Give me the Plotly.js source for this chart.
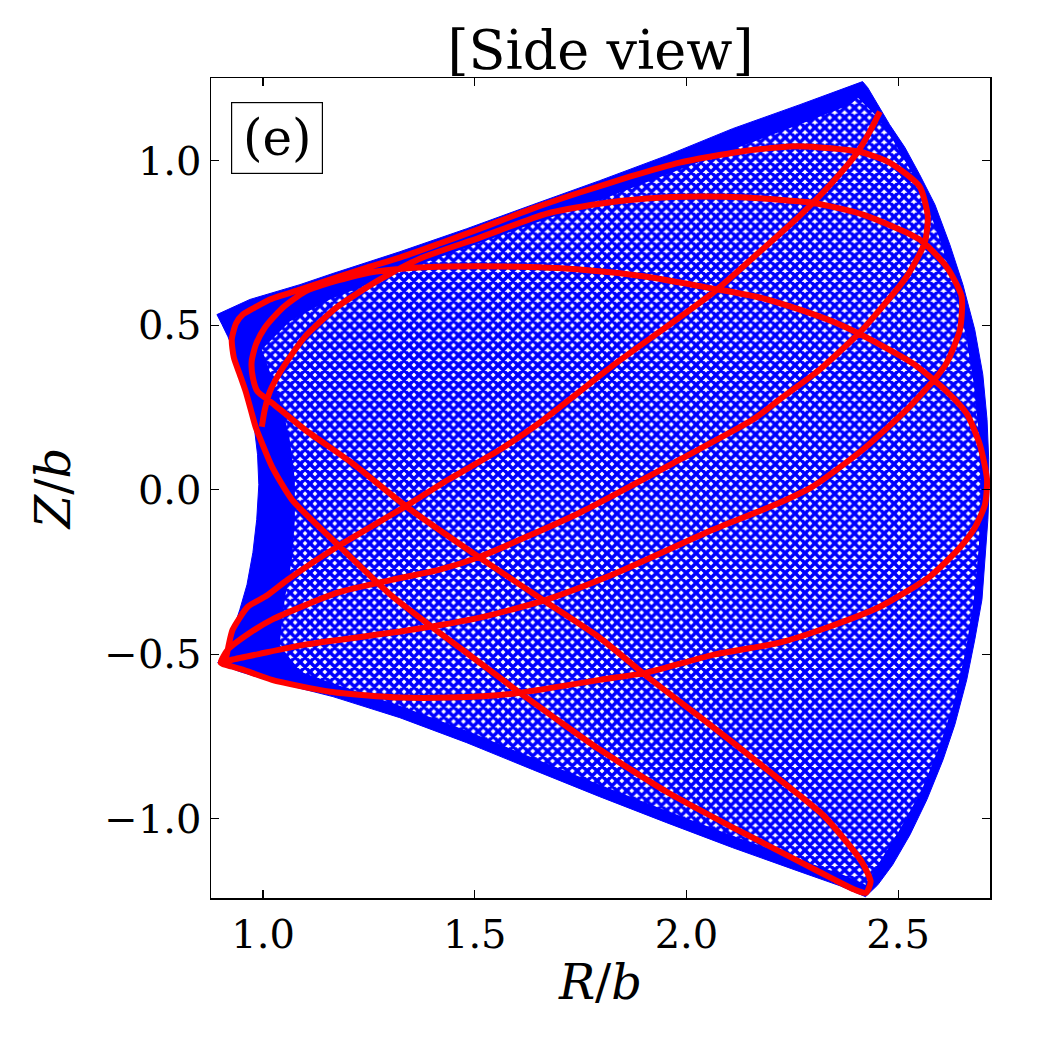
<!DOCTYPE html>
<html>
<head>
<meta charset="utf-8">
<script src="https://cdn.plot.ly/plotly-3.0.1.min.js"></script>
<style>html,body{margin:0;padding:0;background:#fff;}#chart{width:1050px;height:1050px;}</style>
</head>
<body>
<div id="chart"></div>
<script>
// ---- Data (R/b, Z/b) ----
// Outline of the region swept by the full (blue) orbit
const orbitEdgeR = [0.891,0.969,1.087,1.165,1.323,1.481,1.637,1.795,1.953,2.109,2.268,2.416,
  2.428,2.480,2.516,2.551,2.587,2.622,2.653,2.681,2.700,2.710,2.714,2.714,2.712,2.705,2.698,2.681,2.662,2.634,2.606,2.568,2.528,2.487,2.452,2.423,
  2.363,2.268,2.109,1.953,1.795,1.637,1.481,1.323,1.165,1.009,0.945,0.893,
  0.912,0.928,0.945,0.962,0.976,0.985,0.990,0.987,0.980,0.966,0.952,0.936,0.917,0.903,0.891];
const orbitEdgeZ = [0.532,0.578,0.623,0.657,0.723,0.793,0.866,0.939,1.015,1.097,1.170,1.240,
  1.222,1.109,1.040,0.957,0.866,0.745,0.623,0.486,0.350,0.213,0.091,-0.030,-0.091,-0.213,-0.334,-0.456,-0.578,-0.714,-0.821,-0.942,-1.049,-1.140,-1.201,-1.237,
  -1.204,-1.161,-1.088,-1.012,-0.933,-0.851,-0.769,-0.693,-0.629,-0.578,-0.553,-0.526,
  -0.486,-0.432,-0.365,-0.289,-0.191,-0.091,0.015,0.106,0.182,0.264,0.334,0.404,0.465,0.502,0.532];

// Outline of the open-mesh (less dense) part of the blue orbit
const meshOpenR = [0.997,1.063,1.158,1.323,1.488,1.654,1.819,1.984,2.150,2.292,2.386,2.405,2.445,2.487,2.528,2.568,2.603,2.634,2.660,2.679,2.691,2.695,2.691,2.679,2.660,2.634,2.599,2.556,2.504,2.452,2.423,
  2.374,2.268,2.109,1.953,1.795,1.637,1.481,1.323,1.181,1.087,1.039,1.051,1.068,1.075,1.075,1.063,1.044,1.021,0.997];
const meshOpenZ = [0.426,0.511,0.578,0.663,0.739,0.815,0.891,0.973,1.052,1.122,1.170,1.191,1.140,1.064,0.973,0.866,0.745,0.608,0.471,0.319,0.167,0.000,-0.167,-0.334,-0.486,-0.638,-0.775,-0.912,-1.033,-1.140,-1.201,
  -1.173,-1.125,-1.052,-0.976,-0.897,-0.815,-0.733,-0.657,-0.596,-0.553,-0.471,-0.334,-0.213,-0.091,0.030,0.152,0.258,0.340,0.426];

// Highlighted (red) segment of the orbit, in path order
const segR = [
  0.997,1.004,1.016,1.044,1.099,1.176,1.271,1.370,1.512,1.670,1.795,1.906,2.032,2.143,2.220,2.298,2.417,2.551,2.614,2.650,
  2.646,2.615,2.591,2.520,2.417,2.298,2.220,2.062,1.826,1.670,1.512,1.335,1.099,0.992,0.926,0.900,
  0.917,0.969,1.021,1.176,1.304,1.417,1.512,1.748,1.984,2.157,2.220,2.315,2.409,2.457,2.520,2.563,2.570,2.551,2.480,2.409,
  2.315,2.244,2.126,1.984,1.866,1.748,1.630,1.512,1.417,1.323,1.245,1.165,1.087,1.016,0.980,0.952,0.936,0.926,0.931,0.945,
  0.959,0.971,0.983,0.997,1.021,1.068,1.181,1.306,1.417,1.512,1.606,1.701,1.795,1.953,2.110,2.268,2.346,2.398,2.424,2.435,
  2.414,2.374,2.322,2.268,2.220,2.110,2.031,1.913,1.795,1.670,1.519,1.339,1.209,1.099,1.021,0.987,0.976,0.973,0.983,1.004,
  1.044,1.099,1.158,1.252,1.335,1.441,1.571,1.748,1.906,2.063,2.173,2.268,2.362,2.457,2.539,2.610,2.662,2.693,2.710,2.705,
  2.681,2.646,2.575,2.457,2.339,2.220,2.063,1.906,1.795,1.590,1.441,1.323,1.158,1.021,0.952,0.900,
  0.912,0.919,0.928,0.964,1.009,1.058,1.176,1.335,1.437,1.560,1.654,1.826,2.063,2.173,2.268,2.346,2.405,2.433,2.457];
const segZ = [
  0.191,0.243,0.298,0.365,0.465,0.556,0.635,0.702,0.766,0.839,0.869,0.885,0.891,0.888,0.881,0.872,0.836,0.760,0.678,0.587,
  0.486,0.386,0.343,0.243,0.122,0.009,-0.040,-0.122,-0.258,-0.334,-0.389,-0.429,-0.471,-0.499,-0.517,-0.526,
  -0.486,-0.435,-0.395,-0.313,-0.274,-0.243,-0.204,-0.070,0.091,0.213,0.274,0.365,0.477,0.547,0.647,0.751,0.830,0.921,0.994,1.027,
  1.040,1.043,1.027,0.994,0.951,0.903,0.851,0.793,0.748,0.705,0.675,0.641,0.608,0.578,0.553,0.532,0.505,0.456,0.401,0.350,
  0.298,0.243,0.188,0.143,0.070,-0.030,-0.173,-0.325,-0.435,-0.526,-0.617,-0.705,-0.790,-0.918,-1.027,-1.131,-1.183,-1.216,-1.225,-1.191,
  -1.131,-1.064,-0.988,-0.930,-0.881,-0.769,-0.690,-0.574,-0.450,-0.343,-0.213,-0.052,0.082,0.182,0.264,0.298,0.340,0.389,0.441,0.492,
  0.550,0.602,0.629,0.660,0.672,0.678,0.678,0.669,0.647,0.611,0.584,0.547,0.502,0.441,0.380,0.304,0.231,0.137,0.030,-0.046,
  -0.116,-0.176,-0.264,-0.356,-0.416,-0.465,-0.502,-0.556,-0.578,-0.620,-0.632,-0.632,-0.614,-0.578,-0.547,-0.526,
  -0.511,-0.471,-0.426,-0.356,-0.322,-0.274,-0.173,-0.052,0.030,0.122,0.204,0.377,0.599,0.723,0.833,0.936,1.027,1.088,1.149];

const xTicks = [1.0, 1.5, 2.0, 2.5];
const yTicks = [-1.0, -0.5, 0.0, 0.5, 1.0];
const xRange = [0.877, 2.717];
const yRange = [-1.241, 1.251];

const serif = 'DejaVu Serif, Liberation Serif, serif';

const traces = [
  {x: orbitEdgeR, y: orbitEdgeZ, mode: 'lines', fill: 'toself', fillcolor: '#0000ff',
   line: {color: '#0000ff', width: 1}, hoverinfo: 'skip', showlegend: false},
  {x: meshOpenR, y: meshOpenZ, mode: 'lines', fill: 'toself', fillcolor: '#0000ff',
   fillpattern: {shape: 'x', fgcolor: '#0000ff', bgcolor: '#ffffff', size: 7, solidity: 0.76},
   line: {color: 'rgba(0,0,255,0)', width: 0}, hoverinfo: 'skip', showlegend: false},
  {x: segR, y: segZ, mode: 'lines', line: {color: '#ff0000', width: 6, shape: 'spline', smoothing: 0.6},
   hoverinfo: 'skip', showlegend: false}
];

const axisCommon = {
  showgrid: false, zeroline: false, showline: true, linecolor: '#000', linewidth: 1.5,
  mirror: 'ticks', ticks: 'inside', ticklen: 8, tickwidth: 1.2, tickcolor: '#000',
  tickfont: {family: serif, size: 40, color: '#000'}, tickformat: '.1f'
};

const layout = {
  width: 1050, height: 1050,
  margin: {l: 211, r: 60, t: 78, b: 152},
  paper_bgcolor: '#fff', plot_bgcolor: '#fff',
  title: {text: '[Side view]', font: {family: serif, size: 54, color: '#000'},
          x: 0.5, xref: 'paper', y: 1 - 50/1050, yref: 'container', yanchor: 'middle'},
  xaxis: Object.assign({}, axisCommon, {range: xRange, tickmode: 'array', tickvals: xTicks,
          title: {text: '<i>R</i>/<i>b</i>', font: {family: serif, size: 48, color: '#000'}, standoff: 10}}),
  yaxis: Object.assign({}, axisCommon, {range: yRange, tickmode: 'array', tickvals: yTicks,
          title: {text: '<i>Z</i>/<i>b</i>', font: {family: serif, size: 48, color: '#000'}, standoff: 18}}),
  annotations: [{
    text: '(e)', xref: 'paper', yref: 'paper', x: 0.0843, y: 0.927, showarrow: false,
    font: {family: serif, size: 50, color: '#000'}, bgcolor: '#fff', bordercolor: '#000',
    borderwidth: 1.2, borderpad: 4, width: 82, height: 62, xanchor: 'center', yanchor: 'middle'
  }]
};

Plotly.newPlot('chart', traces, layout, {staticPlot: true});
</script>
</body>
</html>
